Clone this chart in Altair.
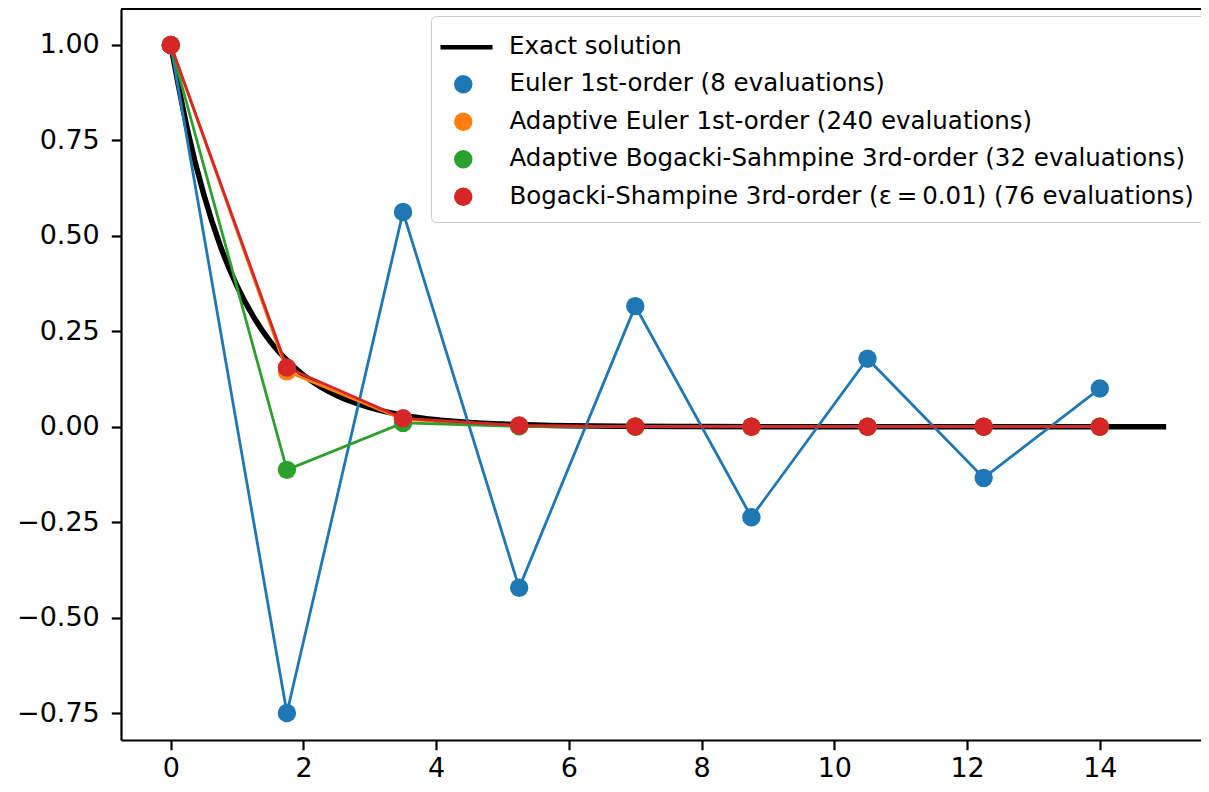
import altair as alt
import pandas as pd

# ---- data ----
t_steps = [0.0, 1.75, 3.5, 5.25, 7.0, 8.75, 10.5, 12.25, 14.0]
euler = [1.0, -0.75, 0.5625, -0.422, 0.316, -0.237, 0.178, -0.134, 0.100]
adaptive_euler = [1.0, 0.145, 0.019, 0.002, 0.0003, 0.0, 0.0, 0.0, 0.0]
adaptive_bs = [1.0, -0.113, 0.010, 0.001, 0.0, 0.0, 0.0, 0.0, 0.0]
bs = [1.0, 0.155, 0.022, 0.003, 0.0005, 0.0, 0.0, 0.0, 0.0]

exact_t = [0.0, 0.25, 0.5, 0.75, 1.0, 1.25, 1.5, 1.75, 2.0, 2.25, 2.5, 2.75,
           3.0, 3.5, 4.0, 4.5, 5.0, 6.0, 7.0, 8.0, 10.0, 12.0, 15.0]
exact_y = [1.0, 0.779, 0.607, 0.472, 0.368, 0.287, 0.223, 0.174, 0.135, 0.105,
           0.082, 0.064, 0.050, 0.030, 0.018, 0.011, 0.007, 0.0025, 0.001,
           0.0003, 0.00005, 0.0, 0.0]

names = [
    "Exact solution",
    "Euler 1st-order (8 evaluations)",
    "Adaptive Euler 1st-order (240 evaluations)",
    "Adaptive Bogacki-Sahmpine 3rd-order (32 evaluations)",
    "Bogacki-Shampine 3rd-order (\u03b5\u2009=\u20090.01) (76 evaluations)",
]
colors = ["#000000", "#1f77b4", "#ff7f0e", "#2ca02c", "#d62728"]

x_ticks = [0, 2, 4, 6, 8, 10, 12, 14]
y_ticks = [-0.75, -0.5, -0.25, 0.0, 0.25, 0.5, 0.75, 1.0]

W, H = 1080, 731
FONT = "DejaVu Sans"

exact_df = pd.DataFrame({"t": exact_t, "y": exact_y, "series": names[0]})
series_vals = [euler, adaptive_euler, adaptive_bs, bs]
series_dfs = [pd.DataFrame({"t": t_steps, "y": v, "series": names[i + 1]})
              for i, v in enumerate(series_vals)]

# legend for the exact-solution line (only that entry shown)
line_legend = alt.Legend(
    title=None, orient="none", legendX=317, legendY=9.7, values=[names[0]],
    padding=0, labelFont=FONT, labelFontSize=24.5, labelColor="black",
    labelLimit=1000, labelOffset=14, symbolType="stroke", symbolSize=2704,
    symbolStrokeWidth=4.5, zindex=2,
)
# legend for the four marker series, framed box; blank title reserves the first row
point_legend = alt.Legend(
    title=" ", titleFontSize=24.5, titlePadding=18.5, titleFont=FONT,
    orient="none", legendX=310, legendY=7,
    fillColor="white", strokeColor="#cccccc", cornerRadius=5, padding=13,
    labelFont=FONT, labelFontSize=24.5, labelColor="black",
    labelLimit=1000, labelOffset=34, symbolOffset=7, symbolSize=340,
    symbolType="circle", symbolOpacity=1, rowPadding=12.5, zindex=1,
)

stroke_enc = alt.Stroke("series:N", scale=alt.Scale(domain=names, range=colors), legend=line_legend)
fill_enc = alt.Fill("series:N", scale=alt.Scale(domain=names[1:], range=colors[1:]), legend=point_legend)
x_enc = alt.X("t:Q", scale=alt.Scale(domain=[-0.75, 15.525], nice=False, zero=False),
              axis=alt.Axis(values=x_ticks, format="d", title=None))
y_enc = alt.Y("y:Q", scale=alt.Scale(domain=[-0.8207, 1.0943], nice=False, zero=False),
              axis=alt.Axis(values=y_ticks, format=".2f", title=None))

layers = [
    alt.Chart(exact_df).mark_line(strokeWidth=5.5, interpolate="monotone").encode(
        x=x_enc, y=y_enc, stroke=stroke_enc)
]
for df in series_dfs:
    layers.append(alt.Chart(df).mark_line(strokeWidth=2.8).encode(x=x_enc, y=y_enc, stroke=stroke_enc))
    layers.append(alt.Chart(df).mark_circle(size=340, opacity=1).encode(x=x_enc, y=y_enc, fill=fill_enc))

top_spine = alt.Chart(pd.DataFrame({"a": [0]})).mark_rule(color="black", strokeWidth=2.2).encode(
    x=alt.value(0), x2=alt.value(W), y=alt.value(0))
layers.append(top_spine)

chart = alt.layer(*layers).properties(
    width=W, height=H,
    padding={"left": 113, "top": 1, "right": 0, "bottom": 44},
    autosize=alt.AutoSizeParams(type="none"),
).configure_view(stroke=None).configure_axis(
    grid=False, domainColor="black", domainWidth=2.2, tickColor="black",
    tickWidth=2.2, tickSize=9.7, labelColor="black", labelFont=FONT,
    labelFontSize=27,
).configure_axisY(labelPadding=12).configure_axisX(labelPadding=6)

chart.save("out.html", embed_options={"renderer": "svg", "actions": False})
